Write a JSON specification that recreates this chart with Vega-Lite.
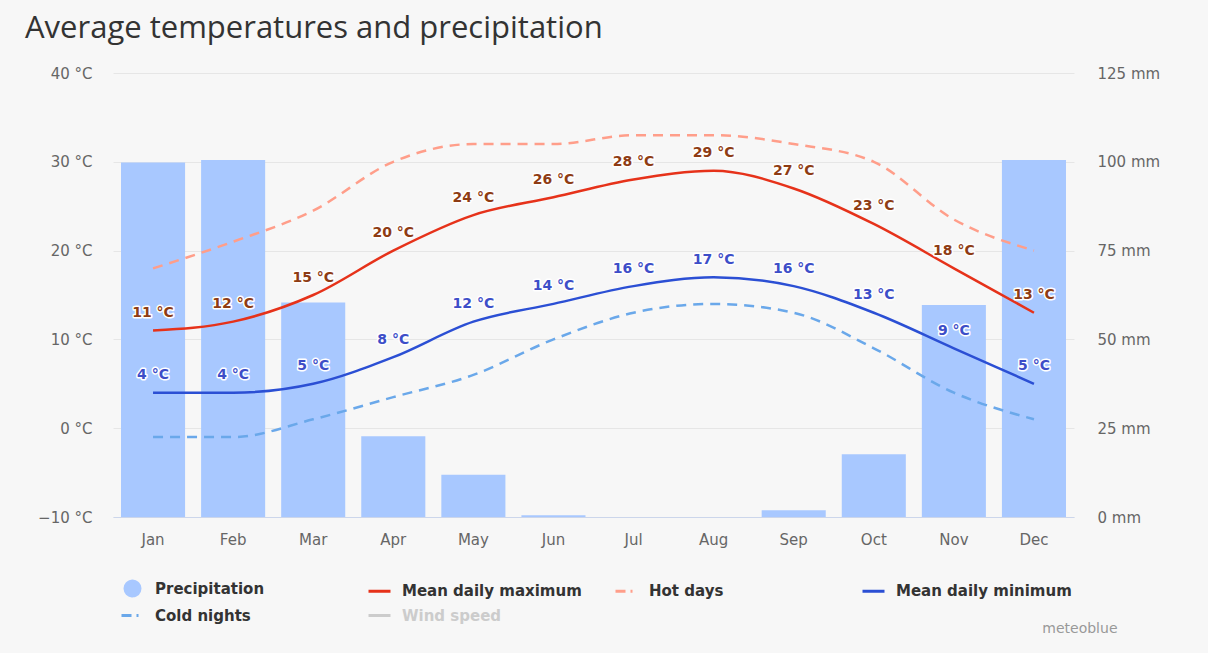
{
  "$schema": "https://vega.github.io/schema/vega-lite/v6.json",
  "autosize": {"type": "none"},
  "padding": {"left": 113, "top": 73, "right": 134, "bottom": 136},
  "width": 961,
  "height": 444,
  "background": "#f7f7f7",
  "title": {
    "text": "Average temperatures and precipitation",
    "anchor": "start",
    "frame": "group",
    "dx": -88,
    "dy": 31,
    "offset": 28,
    "baseline": "alphabetic",
    "font": "Open Sans",
    "fontSize": 31,
    "fontWeight": "normal",
    "color": "#333333"
  },
  "config": {
    "view": {"stroke": null},
    "axis": {
      "labelFont": "DejaVu Sans",
      "labelFontSize": 15,
      "labelColor": "#666666",
      "titleFont": "DejaVu Sans"
    }
  },
  "data": {
    "values": [
      {"month": "Jan", "precip": 99.8, "tmax": 11, "tmin": 4, "hot": 18, "cold": -1},
      {"month": "Feb", "precip": 100.5, "tmax": 12, "tmin": 4, "hot": 21, "cold": -1},
      {"month": "Mar", "precip": 60.4, "tmax": 15, "tmin": 5, "hot": 24.5, "cold": 1},
      {"month": "Apr", "precip": 22.7, "tmax": 20, "tmin": 8, "hot": 30, "cold": 3.5},
      {"month": "May", "precip": 11.9, "tmax": 24, "tmin": 12, "hot": 32, "cold": 6},
      {"month": "Jun", "precip": 0.5, "tmax": 26, "tmin": 14, "hot": 32, "cold": 10},
      {"month": "Jul", "precip": 0, "tmax": 28, "tmin": 16, "hot": 33, "cold": 13},
      {"month": "Aug", "precip": 0, "tmax": 29, "tmin": 17, "hot": 33, "cold": 14},
      {"month": "Sep", "precip": 1.9, "tmax": 27, "tmin": 16, "hot": 32, "cold": 13},
      {"month": "Oct", "precip": 17.7, "tmax": 23, "tmin": 13, "hot": 30, "cold": 9},
      {"month": "Nov", "precip": 59.7, "tmax": 18, "tmin": 9, "hot": 23.5, "cold": 4},
      {"month": "Dec", "precip": 100.5, "tmax": 13, "tmin": 5, "hot": 20, "cold": 1}
    ]
  },
  "encoding": {
    "x": {
      "field": "month",
      "type": "ordinal",
      "sort": null,
      "scale": {"paddingInner": 0.2, "paddingOuter": 0.1},
      "axis": {
        "title": "meteoblue",
        "titleX": 1004,
        "titleY": 111,
        "titleAlign": "right",
        "titleBaseline": "middle",
        "titleFontSize": 14,
        "titleFontWeight": "normal",
        "titleColor": "#999999",
        "labelAngle": 0,
        "ticks": false,
        "domainColor": "#ccd6eb",
        "labelPadding": 15
      }
    }
  },
  "layer": [
    {
      "mark": {"type": "bar"},
      "encoding": {
        "y": {
          "field": "precip",
          "type": "quantitative",
          "scale": {"domain": [0, 125]},
          "axis": {
            "orient": "right",
            "values": [0, 25, 50, 75, 100, 125],
            "labelExpr": "datum.value + ' mm'",
            "grid": false,
            "title": null,
            "domain": false,
            "ticks": false,
            "labelPadding": 23
          }
        },
        "color": {
          "datum": "Precipitation",
          "type": "nominal",
          "scale": {
            "domain": ["Precipitation", "Mean daily maximum", "Hot days", "Mean daily minimum", "Cold nights", "Wind speed"],
            "range": ["#a8c8ff", "#e6321a", "#ff9e8a", "#2b4fd4", "#6aa8ea", "#cccccc"]
          },
          "legend": {
            "orient": "none",
            "legendX": 7,
            "legendY": 503,
            "direction": "horizontal",
            "columns": 4,
            "gridAlign": "all",
            "columnPadding": 27,
            "rowPadding": 1,
            "padding": 0,
            "title": null,
            "symbolSize": 484,
            "symbolType": "stroke",
            "symbolStrokeWidth": 3,
            "symbolOffset": 0,
            "labelOffset": 10,
            "labelFont": "DejaVu Sans",
            "labelFontSize": 15,
            "labelFontWeight": "bold",
            "labelColor": "#333333",
            "labelLimit": 300,
            "encode": {
              "symbols": {
                "update": {
                  "shape": {"signal": "datum.value === 'Precipitation' ? 'M0.68,0L0.628,0.26L0.481,0.481L0.26,0.628L0,0.68L-0.26,0.628L-0.481,0.481L-0.628,0.26L-0.68,0L-0.628,-0.26L-0.481,-0.481L-0.26,-0.628L0,-0.68L0.26,-0.628L0.481,-0.481L0.628,-0.26Z' : 'stroke'"},
                  "fill": {"signal": "datum.value === 'Precipitation' ? '#a8c8ff' : 'transparent'"},
                  "stroke": {"signal": "datum.value === 'Precipitation' ? null : scale('color', datum.value)"},
                  "strokeDash": {"signal": "(datum.value === 'Hot days' || datum.value === 'Cold nights') ? [10, 5, 2, 10] : [1, 0]"}
                }
              },
              "labels": {
                "update": {
                  "fill": {"signal": "datum.value === 'Wind speed' ? '#cccccc' : '#333333'"}
                }
              }
            }
          }
        }
      }
    },
    {
      "layer": [
        {
          "mark": {"type": "line", "interpolate": "monotone", "strokeWidth": 2.5, "strokeDash": [10, 7]},
          "encoding": {
            "y": {
              "field": "hot",
              "type": "quantitative",
              "scale": {"domain": [-10, 40]},
              "axis": {
                "orient": "left",
                "values": [-10, 0, 10, 20, 30, 40],
                "labelExpr": "replace(toString(datum.value), '-', '−') + ' °C'",
                "grid": true,
                "gridColor": "#e6e6e6",
                "title": null,
                "domain": false,
                "ticks": false,
                "labelPadding": 21
              }
            },
            "color": {"datum": "Hot days", "type": "nominal"}
          }
        },
        {
          "mark": {"type": "line", "interpolate": "monotone", "strokeWidth": 2.5, "strokeDash": [10, 7]},
          "encoding": {
            "y": {"field": "cold", "type": "quantitative", "axis": {"title": null}},
            "color": {"datum": "Cold nights", "type": "nominal"}
          }
        },
        {
          "mark": {"type": "line", "interpolate": "monotone", "strokeWidth": 2.5},
          "encoding": {
            "y": {"field": "tmax", "type": "quantitative", "axis": {"title": null}},
            "color": {"datum": "Mean daily maximum", "type": "nominal"}
          }
        },
        {
          "mark": {"type": "line", "interpolate": "monotone", "strokeWidth": 2.5},
          "encoding": {
            "y": {"field": "tmin", "type": "quantitative", "axis": {"title": null}},
            "color": {"datum": "Mean daily minimum", "type": "nominal"}
          }
        },
        {
          "mark": {"type": "text", "text": {"expr": "datum.tmax + ' °C'"}, "dy": -17.5, "font": "DejaVu Sans", "fontSize": 14, "fontWeight": "bold", "stroke": "#ffffff", "strokeWidth": 3, "strokeJoin": "round", "fill": "#ffffff"},
          "encoding": {"y": {"field": "tmax", "type": "quantitative", "axis": {"title": null}}}
        },
        {
          "mark": {"type": "text", "text": {"expr": "datum.tmax + ' °C'"}, "dy": -17.5, "font": "DejaVu Sans", "fontSize": 14, "fontWeight": "bold", "fill": "#8e3c14"},
          "encoding": {"y": {"field": "tmax", "type": "quantitative", "axis": {"title": null}}}
        },
        {
          "mark": {"type": "text", "text": {"expr": "datum.tmin + ' °C'"}, "dy": -17.5, "font": "DejaVu Sans", "fontSize": 14, "fontWeight": "bold", "stroke": "#ffffff", "strokeWidth": 3, "strokeJoin": "round", "fill": "#ffffff"},
          "encoding": {"y": {"field": "tmin", "type": "quantitative", "axis": {"title": null}}}
        },
        {
          "mark": {"type": "text", "text": {"expr": "datum.tmin + ' °C'"}, "dy": -17.5, "font": "DejaVu Sans", "fontSize": 14, "fontWeight": "bold", "fill": "#3d4ec8"},
          "encoding": {"y": {"field": "tmin", "type": "quantitative", "axis": {"title": null}}}
        }
      ]
    }
  ],
  "resolve": {"scale": {"y": "independent"}}
}
